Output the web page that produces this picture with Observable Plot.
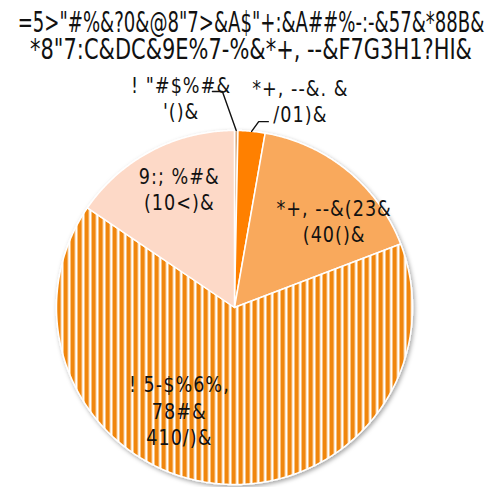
<!DOCTYPE html>
<html>
<head>
<meta charset="utf-8">
<script src="https://cdn.jsdelivr.net/npm/d3@7"></script>
<script src="https://cdn.jsdelivr.net/npm/@observablehq/plot@0.6"></script>
<style>
  html, body { margin: 0; padding: 0; background: #fff; }
  #title svg, #chart svg { display: block; }
  #chart svg g[aria-label="text"] text { letter-spacing: 1.2px; }
</style>
</head>
<body>
<div id="title"></div>
<div id="chart"></div>
<script>
// Title lines
const titleLines = [
  "=5>\"#%&?0&@8\"7>&A$\"+:&A##%-:-&57&*88B&",
  "*8\"7:C&DC&9E%7-%&*+, --&F7G3H1?HI&"
];

// Slices, clockwise from twelve o'clock
const categories = ["! \"#$%#&", "*+, --&. &", "*+, --&(23&", "! 5-$%6%,\n78#&", "9:; %#&"];
const values = [31, 245, 1641, 6542, 1549];
const valueLabels = ["'()&", "/01)&", "(40()&", "410/)&", "(10<)&"];
const colors = ["#d9a77a", "#ff8000", "#f9a95c", "url(#stripes)", "#fdd9c7"];

const ns = "http://www.w3.org/2000/svg";

// Title block: two condensed lines centred over the pie
const titleWidths = [467, 442];
const titleSvg = document.createElementNS(ns, "svg");
titleSvg.setAttribute("width", "502");
titleSvg.setAttribute("height", "66");
document.getElementById("title").append(titleSvg);
titleLines.forEach((line, i) => {
  const t = document.createElementNS(ns, "text");
  t.setAttribute("text-anchor", "middle");
  t.setAttribute("font-family", "DejaVu Sans, sans-serif");
  t.setAttribute("font-size", "29");
  t.setAttribute("fill", "#111");
  t.textContent = line;
  titleSvg.append(t);
  const s = titleWidths[i] / t.getComputedTextLength();
  t.setAttribute("transform", `translate(251,${32 + i * 26.5}) scale(${s},1)`);
});

// Angles from d3.pie, starting at the top and running clockwise
const arcs = d3.pie().sort(null).value(d => d)(values);

// Slice outlines as closed polygons in unit-radius coordinates
const slices = [];
arcs.forEach((a, i) => {
  const steps = Math.max(2, Math.ceil((a.endAngle - a.startAngle) / (Math.PI / 360)));
  slices.push({key: i, x: 0, y: 0, fill: colors[i]});
  for (let k = 0; k <= steps; ++k) {
    const t = a.startAngle + (a.endAngle - a.startAngle) * k / steps;
    slices.push({key: i, x: Math.sin(t), y: Math.cos(t), fill: colors[i]});
  }
  slices.push({key: i, x: 0, y: 0, fill: colors[i]});
});

// Label anchors (unit-radius coordinates) for each slice
const labelAnchors = [[-0.30, 1.185], [0.37, 1.17], [0.56, 0.49], [-0.31, -0.58], [-0.31, 0.67]];
const labels = categories.map((c, i) => ({
  text: c + "\n" + valueLabels[i], x: labelAnchors[i][0], y: labelAnchors[i][1]
}));

// Leader lines for the two thin slices: from the slice rim to the label
const mid = a => (a.startAngle + a.endAngle) / 2;
const leaders = [
  [{x: Math.sin(mid(arcs[0])), y: Math.cos(mid(arcs[0]))}, {x: -0.068, y: 1.22}, {x: -0.124, y: 1.22}],
  [{x: Math.sin(mid(arcs[1])), y: Math.cos(mid(arcs[1]))}, {x: 0.136, y: 1.05}, {x: 0.19, y: 1.05}]
].flatMap((pts, i) => pts.map(p => ({...p, key: i})));

const chart = Plot.plot({
  width: 502,
  height: 421,
  margin: 0,
  x: {domain: [-1, 1], range: [56, 412], axis: null},
  y: {domain: [-1, 1], range: [418, 64], axis: null},
  color: {type: "identity"},
  marks: [
    Plot.line(slices, {x: "x", y: "y", z: "key", fill: "fill", stroke: "white", strokeWidth: 1.5, curve: "linear"}),
    Plot.line(leaders, {x: "x", y: "y", z: "key", stroke: "#111", strokeWidth: 1.4}),
    Plot.text(labels, {
      x: "x", y: "y", text: "text", fontSize: 21, lineHeight: 1.25, fill: "#111",
      fontFamily: "'DejaVu Sans', sans-serif"
    })
  ]
});

// Striped fill and soft shadow used by the pie
const defs = document.createElementNS(ns, "defs");
const pattern = document.createElementNS(ns, "pattern");
pattern.setAttribute("id", "stripes");
pattern.setAttribute("patternUnits", "userSpaceOnUse");
pattern.setAttribute("width", "7");
pattern.setAttribute("height", "10");
const bg = document.createElementNS(ns, "rect");
bg.setAttribute("width", "7"); bg.setAttribute("height", "10"); bg.setAttribute("fill", "#fff");
const bar = document.createElementNS(ns, "rect");
bar.setAttribute("width", "4.4"); bar.setAttribute("height", "10"); bar.setAttribute("fill", "#f0860a");
pattern.append(bg, bar);
const filter = document.createElementNS(ns, "filter");
filter.setAttribute("id", "pieShadow");
filter.setAttribute("x", "-10%"); filter.setAttribute("y", "-10%");
filter.setAttribute("width", "120%"); filter.setAttribute("height", "120%");
const drop = document.createElementNS(ns, "feDropShadow");
drop.setAttribute("dx", "1.5"); drop.setAttribute("dy", "2");
drop.setAttribute("stdDeviation", "2");
drop.setAttribute("flood-color", "#000"); drop.setAttribute("flood-opacity", "0.35");
filter.append(drop);
defs.append(pattern, filter);
chart.insertBefore(defs, chart.firstChild);
const pie = chart.querySelector('g[aria-label="line"]');
if (pie) pie.setAttribute("filter", "url(#pieShadow)");

document.getElementById("chart").append(chart);

// Condensed look for the slice labels: squeeze each one about its centre
chart.querySelectorAll('g[aria-label="text"] text').forEach(t => {
  const bb = t.getBBox();
  const cx = bb.x + bb.width / 2;
  const prev = t.getAttribute("transform") || "";
  t.setAttribute("transform", `${prev} translate(${cx},0) scale(0.84,1) translate(${-cx},0)`);
});
</script>
</body>
</html>
